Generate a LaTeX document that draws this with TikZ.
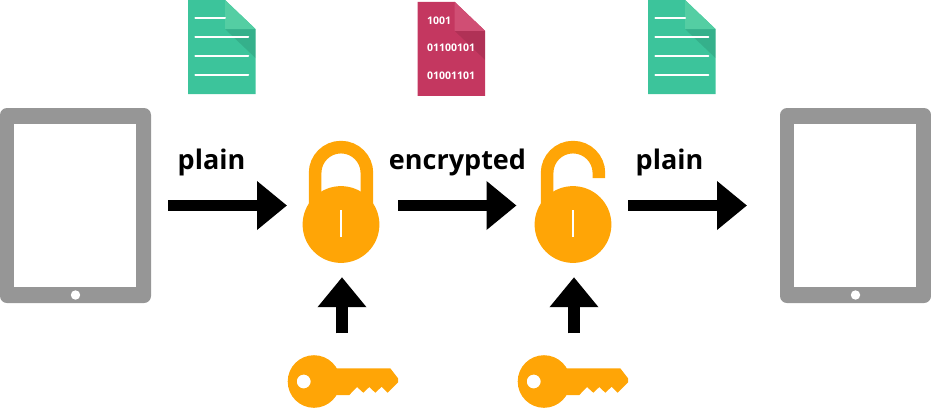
\documentclass[tikz,border=0pt]{standalone}
\usepackage{fontspec}
\setmainfont{Open Sans}
\usetikzlibrary{arrows.meta}

\definecolor{lockorange}{HTML}{FFA506}
\definecolor{tabletgrey}{HTML}{969696}
\definecolor{pagegreen}{HTML}{3CC49B}
\definecolor{foldgreen}{HTML}{54CEA3}
\definecolor{pagered}{HTML}{C43760}
\definecolor{foldred}{HTML}{D04E74}

\tikzset{
  icon/.style={inner sep=0pt,outer sep=0pt},
  flow/.style={line width=11.5pt,-{Triangle[length=30pt,width=47pt]}},
  word/.style={inner sep=0pt,font=\fontsize{27}{27}\selectfont\bfseries},
  bits/.style={inner sep=0pt,anchor=west,text=white,font=\fontsize{10.5}{10.5}\selectfont\bfseries},
  pics/tablet/.style={code={
    \fill[tabletgrey,rounded corners=7pt] (-75.5,-97.5) rectangle (75.5,97.5);
    \fill[white] (-61.5,-81.5) rectangle (60.5,81.5);
    \fill[white] (0,89.5) circle (4.7);
  }},
  pics/page/.style 2 args={code={
    \fill[#1] (-33.75,-47) -- (3.25,-47) -- (33.75,-18) -- (33.75,47) -- (-33.75,47) -- cycle;
    \fill[black,opacity=.1] (3.25,-18) -- (33.75,-18) -- (33.75,11) -- cycle;
    \fill[#2] (3.25,-47) -- (33.75,-18) -- (3.25,-18) -- cycle;
  }},
  pics/textlines/.style={code={
    \draw[white,line width=2pt,line cap=round] (-26.5,-28.7) -- (3.25,-28.7);
    \foreach \y in {-9.7,9,28}
      \draw[white,line width=2pt,line cap=round] (-26.5,\y) -- (26.5,\y);
  }},
  pics/lockbody/.style={code={
    \fill[lockorange] (0,19) circle (38.4);
    \draw[white,line width=2.5pt] (0,4.5) -- (0,31.5);
  }},
  pics/keyshape/.style={code={
    \fill[lockorange,even odd rule] (-28,0) circle (26.3) (-38.3,0) circle (7);
    \fill[lockorange] (-6,-13.2) -- (48.3,-13.2) -- (56,-3.2) -- (56,.8) -- (45.7,11.2)
      -- (39.7,5.2) -- (33.3,11.2) -- (27.3,5.5) -- (21.3,11.2) -- (15,5.5)
      -- (7.3,13.5) -- (-6,13.5) -- cycle;
  }},
}

\begin{document}
\begin{tikzpicture}[x=1pt,y=-1pt]
  \useasboundingbox (0,0) rectangle (931,408);

  \node (tabletL) [icon,minimum width=151pt,minimum height=195pt] at (75.5,205.5) {};
  \node (lockA) [icon,minimum width=77pt,minimum height=116pt] at (341,205.5) {};
  \node (lockB) [icon,minimum width=77pt,minimum height=116pt] at (573,205.5) {};
  \node (tabletR) [icon,minimum width=151pt,minimum height=195pt] at (855.5,205.5) {};
  \node (keyA) [icon,minimum width=110pt,minimum height=53pt] at (342,381.5) {};
  \node (keyB) [icon,minimum width=110pt,minimum height=53pt] at (574,381.5) {};
  \node (docA) [icon,minimum width=67.5pt,minimum height=94pt] at (221.75,47) {};
  \node (docB) [icon,minimum width=67.5pt,minimum height=94pt] at (451.3,48.8) {};
  \node (docC) [icon,minimum width=67.5pt,minimum height=94pt] at (681.75,47) {};

  \pic at (tabletL) {tablet};
  \pic at (tabletR) {tablet};
  \pic at (docA) {page={pagegreen}{foldgreen}};
  \pic at (docA) {textlines};
  \pic at (docB) {page={pagered}{foldred}};
  \pic at (docC) {page={pagegreen}{foldgreen}};
  \pic at (docC) {textlines};

  % shut lock
  \draw[lockorange,line width=12.6pt] (lockA.center) ++(-25.9,10) -- ++(0,-42.5)
    arc (180:360:25.9) -- ++(0,42.5);
  \pic at (lockA) {lockbody};
  % open lock
  \draw[lockorange,line width=12.6pt] (lockB.center) ++(-25.9,10) -- ++(0,-42.5)
    arc (180:360:25.9) -- ++(0,5);
  \pic at (lockB) {lockbody};

  \pic at (keyA) {keyshape};
  \pic at ([xshift=-2pt]keyB) {keyshape};

  \node (bitsA) [bits] at (427,21) {1001};
  \node (bitsB) [bits] at (427,48) {01100101};
  \node (bitsC) [bits] at (427,76) {01001101};

  \node (plainA) [word] at (211.5,162) {plain};
  \node (cipher) [word] at (457.5,162) {encrypted};
  \node (plainB) [word] at (669.5,162) {plain};

  \foreach \from/\to/\gapa/\gapb in {tabletL/lockA/17/15.5,lockA/lockB/18.5/18,lockB/tabletR/16.5/33}
    \draw[flow,shorten <=\gapa pt,shorten >=\gapb pt] (\from) -- (\to);
  \foreach \from/\to in {keyA/lockA,keyB/lockB}
    \draw[flow,shorten <=21.7pt,shorten >=13.7pt] (\from) -- (\from |- \to.south);
\end{tikzpicture}
\end{document}
